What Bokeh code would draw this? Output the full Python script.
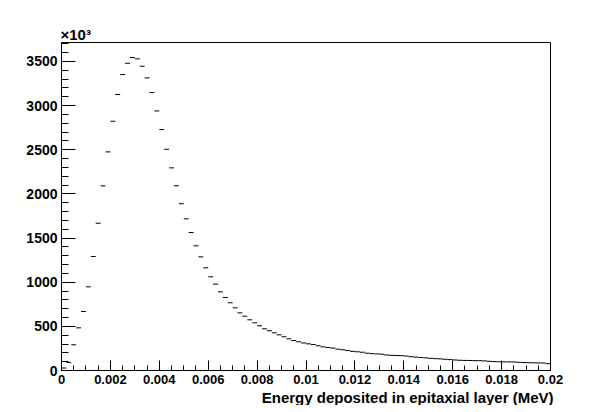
import numpy as np
from bokeh.plotting import figure
from bokeh.models import FixedTicker, Range1d, ColumnDataSource, Title
from bokeh.embed import file_html
from bokeh.resources import INLINE

# ---- data (counts in units of 10^3), 100 bins of 0.0002 MeV from 0 to 0.02 ----
bin_start = 0.0
bin_width = 0.0002
counts_k = [
    28, 90, 291, 483, 668, 948, 1291, 1668, 2091, 2476,
    2823, 3126, 3352, 3480, 3545, 3530, 3446, 3314, 3148, 2940,
    2729, 2506, 2295, 2093, 1889, 1718, 1563, 1412, 1287, 1163,
    1061, 978, 891, 827, 767, 710, 653, 615, 574, 540,
    506, 472, 450, 427, 404, 382, 359, 340, 325, 312,
    302, 294, 280, 268, 260, 254, 242, 235, 226, 217,
    212, 207, 196, 191, 188, 185, 176, 172, 170, 168,
    164, 156, 151, 147, 143, 138, 134, 131, 127, 123,
    119, 116, 114, 113, 112, 111, 109, 104, 101, 99,
    98, 97, 96, 93, 90, 88, 87, 86, 85, 77,
]
x_ticks = [0.0, 0.002, 0.004, 0.006, 0.008, 0.01, 0.012, 0.014, 0.016, 0.018, 0.02]
x_tick_labels = ["0", "0.002", "0.004", "0.006", "0.008", "0.01", "0.012", "0.014", "0.016", "0.018", "0.02"]
y_ticks = [0, 500, 1000, 1500, 2000, 2500, 3000, 3500]
y_tick_labels = ["0", "500", "1000", "1500", "2000", "2500", "3000", "3500"]
x_title = "Energy deposited in epitaxial layer (MeV)"
y_multiplier = "\u00d710\u00b3"

n = len(counts_k)
left = bin_start + bin_width * np.arange(n)
right = left + bin_width
src = ColumnDataSource(dict(x0=left, x1=right, y=counts_k))

FONT = "Liberation Sans"

p = figure(frame_width=489, frame_height=328, output_backend="svg", toolbar_location=None,
           x_range=Range1d(0, 0.02), y_range=Range1d(0, 3715),
           min_border_left=61, min_border_right=54, min_border_top=42, min_border_bottom=34)
p.background_fill_color = "white"
p.border_fill_color = "white"
p.outline_line_color = "black"
p.outline_line_width = 1
p.xgrid.visible = False
p.ygrid.visible = False

p.segment(x0="x0", x1="x1", y0="y", y1="y", source=src, line_color="black", line_width=1)

xminor = list(np.round(np.arange(0, 0.02 + 1e-9, 0.0005), 6))
yminor = list(range(0, 3701, 100))
p.xaxis.ticker = FixedTicker(ticks=x_ticks, minor_ticks=xminor)
p.yaxis.ticker = FixedTicker(ticks=y_ticks, minor_ticks=yminor)
p.xaxis.major_label_overrides = dict(zip(x_ticks, x_tick_labels))
p.yaxis.major_label_overrides = dict(zip(y_ticks, y_tick_labels))

for ax in (p.xaxis, p.yaxis):
    ax.axis_line_color = "black"
    ax.major_tick_line_color = "black"
    ax.minor_tick_line_color = "black"
    ax.major_tick_out = 0
    ax.minor_tick_out = 0
    ax.major_label_text_font = FONT
    ax.major_label_text_font_style = "bold"
    ax.major_label_text_color = "black"
    ax.major_label_standoff = 4

p.xaxis.major_tick_in = 10
p.xaxis.minor_tick_in = 5
p.yaxis.major_tick_in = 14
p.yaxis.minor_tick_in = 7
p.xaxis.major_label_text_font_size = "13px"
p.yaxis.major_label_text_font_size = "14px"

p.add_layout(Title(text=x_title, align="right", text_font=FONT, text_font_style="bold",
                   text_font_size="15px", text_color="black", standoff=0, offset=-3), "below")
p.add_layout(Title(text=y_multiplier, align="left", text_font=FONT, text_font_style="bold",
                   text_font_size="15px", text_color="black", standoff=0, offset=-1), "above")

open("out.html", "w").write(file_html(p, INLINE))
